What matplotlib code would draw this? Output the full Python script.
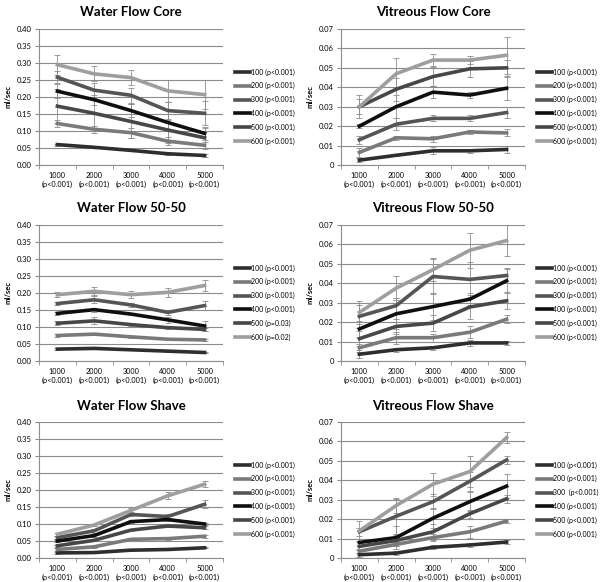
import numpy as np
import matplotlib
matplotlib.use("Agg")
import matplotlib.pyplot as plt
from matplotlib.lines import Line2D

plt.rcParams['font.family'] = ['Lato', 'DejaVu Sans']

speeds = ["1000\n(p<0.001)", "2000\n(p<0.001)", "3000\n(p<0.001)", "4000\n(p<0.001)", "5000\n(p<0.001)"]
colors = ["#2e2e2e", "#7a7a7a", "#555555", "#0f0f0f", "#474747", "#9e9e9e"]

# Water Flow Core
wc_labels = ["100 (p<0.001)", "200 (p<0.001)", "300 (p<0.001)", "400 (p<0.001)", "500 (p<0.001)", "600 (p<0.001)"]
wc_vals = [
    [0.060, 0.052, 0.043, 0.033, 0.028],
    [0.122, 0.105, 0.095, 0.070, 0.058],
    [0.258, 0.220, 0.205, 0.160, 0.152],
    [0.217, 0.192, 0.160, 0.125, 0.093],
    [0.173, 0.152, 0.128, 0.103, 0.080],
    [0.295, 0.268, 0.257, 0.218, 0.207],
]
wc_err = [
    [0.003, 0.003, 0.003, 0.003, 0.003],
    [0.010, 0.010, 0.015, 0.012, 0.010],
    [0.018, 0.020, 0.022, 0.025, 0.035],
    [0.020, 0.015, 0.020, 0.060, 0.020],
    [0.050, 0.045, 0.050, 0.030, 0.030],
    [0.030, 0.022, 0.023, 0.032, 0.042],
]

# Vitreous Flow Core
vc_labels = wc_labels
vc_vals = [
    [0.0025, 0.0050, 0.0073, 0.0073, 0.0080],
    [0.0065, 0.0140, 0.0135, 0.0170, 0.0165],
    [0.0130, 0.0210, 0.0240, 0.0240, 0.0270],
    [0.0200, 0.0300, 0.0375, 0.0360, 0.0395],
    [0.0300, 0.0390, 0.0455, 0.0495, 0.0500],
    [0.0300, 0.0470, 0.0540, 0.0540, 0.0565],
]
vc_err = [
    [0.0010, 0.0005, 0.0018, 0.0010, 0.0018],
    [0.0025, 0.0010, 0.0015, 0.0010, 0.0018],
    [0.0020, 0.0030, 0.0015, 0.0015, 0.0030],
    [0.0010, 0.0060, 0.0030, 0.0015, 0.0060],
    [0.0040, 0.0060, 0.0050, 0.0040, 0.0040],
    [0.0060, 0.0080, 0.0030, 0.0020, 0.0095],
]

# Water Flow 50-50
w5_labels = ["100 (p<0.001)", "200 (p<0.001)", "300 (p<0.001)", "400 (p<0.001)", "500 (p=0.03)", "600 (p=0.02)"]
w5_vals = [
    [0.035, 0.037, 0.033, 0.029, 0.025],
    [0.075, 0.079, 0.071, 0.064, 0.062],
    [0.169, 0.180, 0.165, 0.143, 0.163],
    [0.140, 0.151, 0.138, 0.121, 0.103],
    [0.111, 0.118, 0.107, 0.098, 0.093],
    [0.195, 0.205, 0.195, 0.202, 0.222],
]
w5_err = [
    [0.002, 0.002, 0.002, 0.002, 0.002],
    [0.003, 0.003, 0.003, 0.002, 0.002],
    [0.005, 0.010, 0.005, 0.008, 0.013],
    [0.004, 0.006, 0.004, 0.008, 0.014],
    [0.006, 0.010, 0.004, 0.004, 0.005],
    [0.008, 0.012, 0.010, 0.013, 0.015],
]

# Vitreous Flow 50-50
v5_labels = wc_labels
v5_vals = [
    [0.0035, 0.0058, 0.0068, 0.0093, 0.0093],
    [0.0068, 0.0120, 0.0120, 0.0148, 0.0215],
    [0.0230, 0.0285, 0.0435, 0.0420, 0.0440],
    [0.0165, 0.0243, 0.0280, 0.0318, 0.0413],
    [0.0115, 0.0178, 0.0195, 0.0278, 0.0310],
    [0.0250, 0.0375, 0.0470, 0.0570, 0.0620],
]
v5_err = [
    [0.0020, 0.0010, 0.0010, 0.0015, 0.0010],
    [0.0020, 0.0030, 0.0020, 0.0030, 0.0020],
    [0.0060, 0.0040, 0.0090, 0.0090, 0.0040],
    [0.0040, 0.0080, 0.0070, 0.0030, 0.0060],
    [0.0040, 0.0040, 0.0040, 0.0060, 0.0040],
    [0.0060, 0.0060, 0.0060, 0.0090, 0.0080],
]

# Water Flow Shave
ws_labels = wc_labels
ws_vals = [
    [0.015, 0.016, 0.023, 0.025, 0.030],
    [0.025, 0.033, 0.055, 0.057, 0.064],
    [0.060, 0.080, 0.128, 0.122, 0.158],
    [0.050, 0.066, 0.107, 0.113, 0.100],
    [0.036, 0.052, 0.082, 0.094, 0.089],
    [0.070, 0.097, 0.140, 0.183, 0.217],
]
ws_err = [
    [0.002, 0.002, 0.002, 0.002, 0.002],
    [0.003, 0.003, 0.003, 0.003, 0.004],
    [0.005, 0.005, 0.005, 0.006, 0.012],
    [0.003, 0.003, 0.004, 0.005, 0.004],
    [0.003, 0.003, 0.004, 0.004, 0.004],
    [0.005, 0.004, 0.006, 0.010, 0.009],
]

# Vitreous Flow Shave
vs_labels = ["100 (p<0.001)", "200 (p<0.001)", "300  (p<0.001)", "400 (p<0.001)", "500 (p<0.001)", "600 (p<0.001)"]
vs_vals = [
    [0.0017, 0.0025, 0.0055, 0.0067, 0.0082],
    [0.0035, 0.0070, 0.0105, 0.0135, 0.0190],
    [0.0135, 0.0215, 0.0290, 0.0395, 0.0505],
    [0.0080, 0.0105, 0.0205, 0.0290, 0.0370],
    [0.0060, 0.0090, 0.0135, 0.0228, 0.0305],
    [0.0140, 0.0270, 0.0380, 0.0445, 0.0620],
]
vs_err = [
    [0.0010, 0.0010, 0.0010, 0.0010, 0.0010],
    [0.0010, 0.0010, 0.0020, 0.0030, 0.0010],
    [0.0020, 0.0090, 0.0040, 0.0050, 0.0020],
    [0.0020, 0.0060, 0.0050, 0.0050, 0.0060],
    [0.0020, 0.0030, 0.0040, 0.0020, 0.0020],
    [0.0050, 0.0040, 0.0060, 0.0080, 0.0030],
]

W, H = 600, 582
fig = plt.figure(figsize=(W / 100, H / 100), dpi=100)

panels = [
    ("Water Flow Core", wc_vals, wc_err, wc_labels, "water", 0, 0),
    ("Vitreous Flow Core", vc_vals, vc_err, vc_labels, "vit", 1, 0),
    ("Water Flow 50-50", w5_vals, w5_err, w5_labels, "water", 0, 1),
    ("Vitreous Flow 50-50", v5_vals, v5_err, v5_labels, "vit", 1, 1),
    ("Water Flow Shave", ws_vals, ws_err, ws_labels, "water", 0, 2),
    ("Vitreous Flow Shave", vs_vals, vs_err, vs_labels, "vit", 1, 2),
]

row_top = [29, 225, 422]
row_h = 136

for title, vals, errs, labels, kind, col, row in panels:
    left = 39 if col == 0 else 341
    ax = fig.add_axes([left / W, 1 - (row_top[row] + row_h) / H, 184 / W, row_h / H])
    x = np.arange(5)
    for i in range(6):
        ax.errorbar(x, vals[i], yerr=errs[i], color=colors[i], lw=2.6,
                    ecolor="#8c8c8c", elinewidth=0.6, capsize=2.0, capthick=0.6,
                    zorder=3)
    if kind == "water":
        ax.set_ylim(0, 0.40)
        ticks = np.arange(0, 0.401, 0.05)
        ax.set_yticks(ticks)
        ax.set_yticklabels(["%.2f" % t for t in ticks])
    else:
        ax.set_ylim(0, 0.07)
        ticks = np.arange(0, 0.0701, 0.01)
        ax.set_yticks(ticks)
        ax.set_yticklabels(["0"] + ["%.2f" % t for t in ticks[1:]])
    ax.set_xlim(-0.5, 4.5)
    ax.set_xticks(x)
    ax.set_xticklabels(speeds, fontsize=5.2, linespacing=1.25)
    ax.set_xticks(np.arange(-0.5, 4.6, 1), minor=True)
    ax.tick_params(axis="x", which="major", length=0, pad=5)
    ax.tick_params(axis="x", which="minor", length=3, color="#8c8c8c")
    ax.tick_params(axis="y", labelsize=5.5, length=3, color="#8c8c8c", pad=2)
    ax.grid(axis="y", color="#8c8c8c", lw=0.8)
    ax.set_axisbelow(True)
    for s in ["top", "right"]:
        ax.spines[s].set_visible(False)
    for s in ["left", "bottom"]:
        ax.spines[s].set_color("#8c8c8c")
        ax.spines[s].set_linewidth(0.8)
    ax.set_ylabel("ml/sec", fontsize=5.5, fontweight="bold", labelpad=4)
    ax.set_title(title, fontsize=9.5, fontweight="bold", pad=9)
    handles = [Line2D([0], [0], color=colors[i], lw=2.6) for i in range(6)]
    ax.legend(handles, labels, loc="center left", bbox_to_anchor=(1.05, 0.43),
              frameon=False, fontsize=5.0, handlelength=2.2, handletextpad=0.1,
              labelspacing=0.95, borderaxespad=0)

fig.savefig("out.png", dpi=100)
